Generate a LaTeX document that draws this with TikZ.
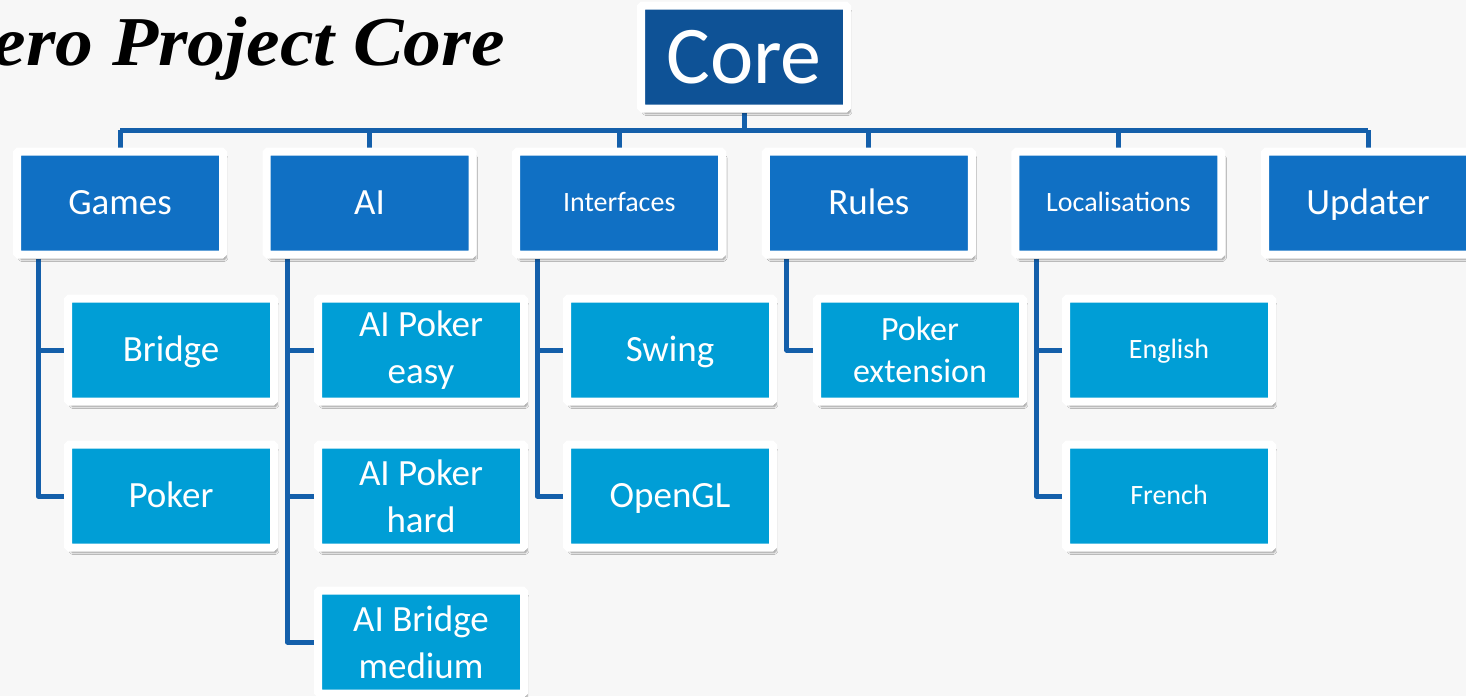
\documentclass[tikz,border=0pt]{standalone}
\usepackage{fontspec}
\setmainfont{Carlito}
\newfontfamily\titlefont[FakeStretch=1.08]{Liberation Serif}
\usetikzlibrary{shadows.blur,backgrounds}

\definecolor{pagebg}{RGB}{247,247,247}
\definecolor{coreblue}{RGB}{14,82,150}
\definecolor{midblue}{RGB}{16,112,196}
\definecolor{leafblue}{RGB}{0,158,214}
\definecolor{linkblue}{RGB}{20,95,170}

\tikzset{
  box/.style={draw=white, line width=8pt, minimum width=206pt, minimum height=103pt,
    inner sep=2pt, align=center, text=white, rounded corners=1.5pt,
    blur shadow={shadow xshift=3pt, shadow yshift=-5pt, shadow blur steps=6, shadow opacity=40}},
  corebox/.style={box, fill=coreblue, font=\fontsize{82}{90}\selectfont},
  topbox/.style={box, fill=midblue, font=\fontsize{37}{44}\selectfont, text height=26pt, text depth=4pt},
  leafbox/.style={box, fill=leafblue, font=\fontsize{37}{47}\selectfont},
  oneline/.style={text height=26pt, text depth=4pt},
  smalltext/.style={font=\fontsize{28}{34}\selectfont, text height=20pt, text depth=3pt},
  link/.style={draw=linkblue, line width=5pt, line join=round}
}

\begin{document}
\begin{tikzpicture}[x=1pt,y=-1pt]
  \useasboundingbox (0,0) rectangle (1466,696);
  %% title
  \node[anchor=base east, inner sep=0pt, font=\titlefont\bfseries\itshape\fontsize{70}{80}\selectfont] (title) at (505,65) {ero Project Core};
  %% top
  \node[corebox] (core) at (744,57) {Core};
  \coordinate (bus) at (744,130);
  %% first level
  \node[topbox] (games) at (120,203) {Games};
  \node[topbox] (ai) at (369.6,203) {AI};
  \node[topbox, smalltext] (ifaces) at (619.2,203) {Interfaces};
  \node[topbox] (rules) at (868.8,203) {Rules};
  \node[topbox, smalltext] (locales) at (1118.4,203) {Localisations};
  \node[topbox] (updater) at (1368,203) {Updater};
  %% leaves
  \node[leafbox, oneline] (bridge) at (171,350) {Bridge};
  \node[leafbox, oneline] (poker) at (171,496) {Poker};
  \node[leafbox] (aieasy) at (421,350) {AI Poker\\easy};
  \node[leafbox] (aihard) at (421,496) {AI Poker\\hard};
  \node[leafbox] (aibridge) at (421,642) {AI Bridge\\medium};
  \node[leafbox, oneline] (swing) at (670,350) {Swing};
  \node[leafbox, oneline] (opengl) at (670,496) {OpenGL};
  \node[leafbox, font=\fontsize{34}{42}\selectfont] (pokerext) at (920,350) {Poker\\extension};
  \node[leafbox, smalltext] (english) at (1169,350) {English};
  \node[leafbox, smalltext] (french) at (1169,496) {French};
  %% connectors
  \begin{pgfonlayer}{background}
    \fill[pagebg] (0,0) rectangle (1466,696);
    \draw[link] (core.south) -- (bus);
    \draw[link] (games |- bus) -- (updater |- bus);
    \foreach \n in {games,ai,ifaces,rules,locales,updater}
      \draw[link] (\n |- bus) -- (\n.north);
    \foreach \p/\c in {games/bridge,games/poker,ai/aieasy,ai/aihard,ai/aibridge,
                       ifaces/swing,ifaces/opengl,rules/pokerext,locales/english,locales/french}
      \draw[link] ([xshift=-82pt]\p.south) |- (\c.west);
  \end{pgfonlayer}
\end{tikzpicture}
\end{document}
